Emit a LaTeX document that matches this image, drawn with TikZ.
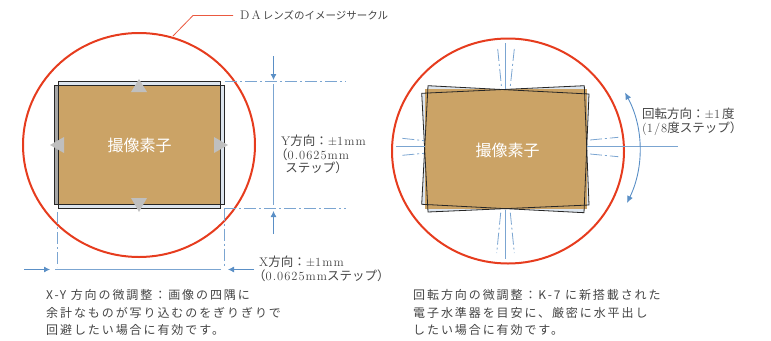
\documentclass[tikz,border=0pt]{standalone}
\usepackage{fontspec}
\newfontfamily\cjk{Noto Sans CJK JP}
\newfontfamily\cjkwide[LetterSpace=16]{Noto Sans CJK JP}
\newfontfamily\latinwide[LetterSpace=8]{Latin Modern Roman}
\newcommand{\jp}[1]{{\cjk #1}}
\newcommand{\jw}[1]{{\cjkwide #1}}
\newcommand{\lw}[1]{{\latinwide #1}}
\definecolor{lensred}{HTML}{E63C1E}
\definecolor{sensortan}{HTML}{CBA366}
\definecolor{dimblue}{HTML}{5A8FC6}
\definecolor{paleblue}{HTML}{DDE5EE}
\definecolor{labelgray}{HTML}{444444}
\tikzset{
  lens/.style={draw=lensred, line width=2pt},
  sensor/.style={fill=sensortan},
  outline/.style={draw=black!85, line width=.8pt},
  dimsolid/.style={draw=dimblue!80, line width=.9pt},
  dimdash/.style={draw=dimblue!80, line width=.8pt, dash pattern=on 12pt off 3pt on 2pt off 3pt},
  dimarrow/.style={draw=dimblue, line width=.8pt, -{Latex[length=6pt,width=6pt]}},
  nudge/.style={fill=black!25},
  label/.style={text=labelgray, font=\fontsize{12.5}{13.8}\selectfont, inner sep=0pt, anchor=north west, align=left},
  note/.style={text=labelgray, font=\fontsize{12}{17.3}\selectfont, inner sep=0pt, anchor=north west, align=left},
  sensorname/.style={text=white, font=\cjk\fontsize{16}{16}\selectfont, inner sep=0pt}
}
\usetikzlibrary{arrows.meta}
\begin{document}
\begin{tikzpicture}[x=1pt, y=-1pt]
\useasboundingbox (0,0) rectangle (771,340);

\draw[outline, fill=paleblue] (58,81) rectangle (220,208);
\draw[outline, fill=black!35] (54,85.5) rectangle (224,204.5);
\fill[paleblue] (220,85.5) rectangle (224,204.5);
\fill[sensor] (58,85.5) rectangle (220,204.5);
\draw[outline] (58,81) rectangle (220,208);
\draw[outline] (54,85.5) rectangle (224,204.5);
\fill[nudge] (139,79) -- (147,92) -- (131,92) -- cycle;
\fill[nudge] (139,212) -- (147,198) -- (131,198) -- cycle;
\fill[nudge] (50,145) -- (64,137) -- (64,153) -- cycle;
\fill[nudge] (228,145) -- (214,137) -- (214,153) -- cycle;
\node[sensorname] (sensorA) at (139.5,145) {撮像素子};
\draw[lens] (139,145) ellipse (116 and 112);

\coordinate (leadA) at (173,36);
\node[label, anchor=west] (lensname) at (240,15.5) {D\,A\,\jp{\fontsize{10.5}{12}\selectfont レンズのイメージサークル}};
\draw[draw=lensred!85, line width=.8pt] (leadA) -- (193,15.5) -- (233,15.5);

\draw[dimarrow] (273.5,56) -- (273.5,80);
\draw[dimdash] (225,81.5) -- (346,81.5);
\draw[dimsolid] (273.5,84) -- (273.5,205);
\draw[dimdash] (224,208.5) -- (346,208.5);
\draw[dimarrow] (273.5,234) -- (273.5,211);
\draw[dimdash] (57,212) -- (57,267);
\draw[dimdash] (224,208.5) -- (224,266);
\draw[dimsolid] (55,269.5) -- (221,269.5);
\draw[dimarrow] (24,269.5) -- (50,269.5);
\draw[dimarrow] (254,269.5) -- (228,269.5);

\node[label] (ylabel) at (281,134.5) {\lw{Y}\jp{方向：}$\pm$\lw{1mm}\\\hspace{-6pt}\jp{（}\lw{0.0625mm}\\\ \jp{ステップ）}};
\node[label] (xlabel) at (259,256) {\lw{X}\jp{方向：}$\pm$\lw{1mm}\\\hspace{-6pt}\jp{（}\lw{0.0625mm}\jp{ステップ）}};
\node[note] (xynote) at (46,289.5) {\jw{X-Y 方向の微調整：画像の四隅に}\\\jw{余計なものが写り込むのをぎりぎりで}\\\jw{回避したい場合に有効です。}};

\path[fill=paleblue] (428,85.7) -- (589,94) -- (584,212.7) -- (421.7,204.3) -- cycle;
\path[fill=paleblue] (421.7,93.3) -- (584.3,85.7) -- (589,205) -- (428,212) -- cycle;
\fill[sensor] (425,89) rectangle (587,209);
\draw[outline] (428,85.7) -- (589,94) -- (584,212.7) -- (421.7,204.3) -- cycle;
\draw[outline] (421.7,93.3) -- (584.3,85.7) -- (589,205) -- (428,212) -- cycle;
\node[sensorname] (sensorB) at (507.5,150) {撮像素子};
\draw[lens] (508,151) ellipse (116 and 112.5);

\draw[dimsolid] (505.7,43) -- (505.7,89);
\draw[dimsolid] (505.7,210) -- (505.7,259);
\draw[dimsolid] (396,146.7) -- (425,146.7);
\draw[dimsolid] (587,146.7) -- (677.7,146.7);
\draw[dimdash] (497.7,49) -- (501.7,89);
\draw[dimdash] (514.3,49) -- (510,89);
\draw[dimdash] (500.7,212.7) -- (496.7,253);
\draw[dimdash] (510.3,212.7) -- (514.3,253);
\draw[dimdash] (402.3,138.3) -- (424,140.7);
\draw[dimdash] (402.3,155.3) -- (424,153.3);
\draw[dimdash] (590,140) -- (618.3,137.3);
\draw[dimdash] (590,154) -- (618.3,156.7);
\draw[draw=dimblue, line width=.9pt, {Latex[length=7pt,width=6pt]}-{Latex[length=7pt,width=6pt]}] (625,92.5) .. controls (644,128) and (644,168) .. (627,203);

\node[label] (rotlabel) at (642,107.5) {\jp{回転方向：}$\pm$\lw{1}\,\jp{度}\\(\lw{1/8}\jp{度ステップ）}};
\node[note] (rotnote) at (413,289.5) {\jw{回転方向の微調整：K-7 に新搭載された}\\\jw{電子水準器を目安に、厳密に水平出し}\\\jw{したい場合に有効です。}};
\end{tikzpicture}
\end{document}
